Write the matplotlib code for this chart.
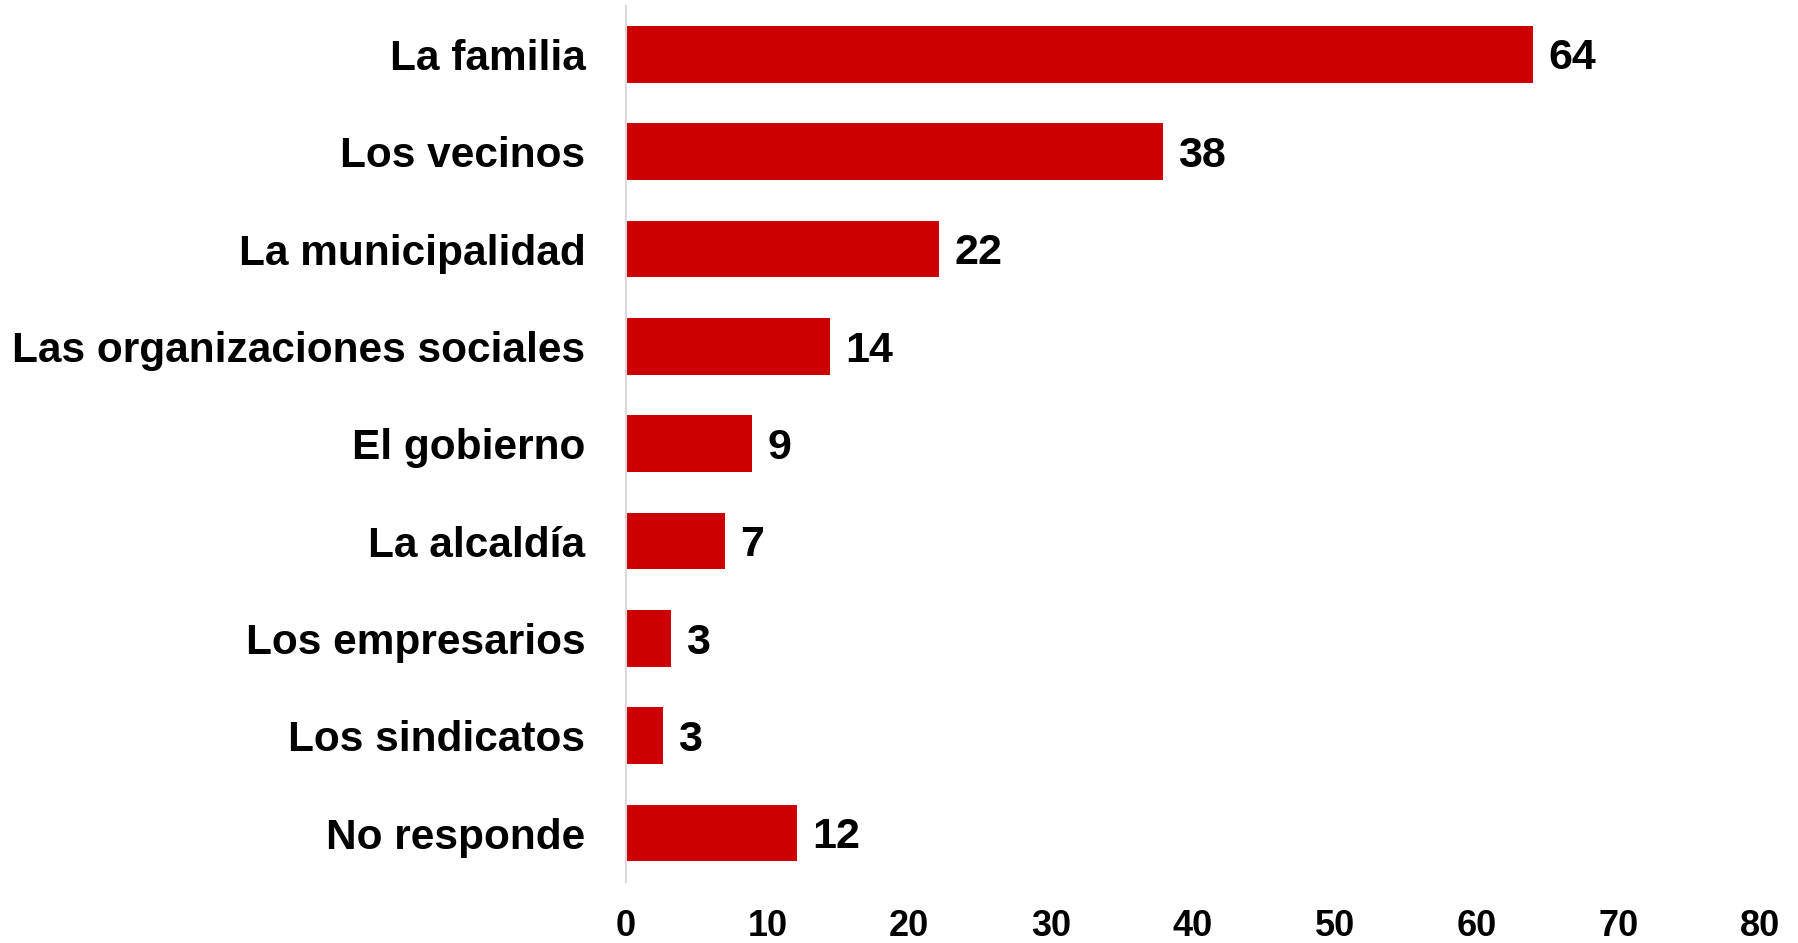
import matplotlib.pyplot as plt

plt.rcParams['font.family'] = ['Liberation Sans', 'DejaVu Sans']
plt.rcParams['font.weight'] = 'bold'

categories = ["La familia", "Los vecinos", "La municipalidad",
              "Las organizaciones sociales", "El gobierno", "La alcaldía",
              "Los empresarios", "Los sindicatos", "No responde"]
values = [64.0, 37.9, 22.1, 14.4, 8.9, 7.0, 3.2, 2.6, 12.1]
labels = ["64", "38", "22", "14", "9", "7", "3", "3", "12"]

fig = plt.figure(figsize=(17.98, 9.43), dpi=100)
ax = fig.add_axes([0.348, 0.065, 0.631, 0.929])

ypos = list(range(len(categories)))
bars = ax.barh(ypos, values, height=0.58, color="#CC0000")

# value labels just right of each bar
for b, lab in zip(bars, labels):
    ax.annotate(lab, (b.get_width(), b.get_y() + b.get_height() / 2),
                xytext=(11, -3), textcoords="offset points",
                va="center", ha="left", fontsize=31, fontweight="bold")

ax.set_yticks(ypos)
ax.set_yticklabels(categories, fontsize=30.5, fontweight="bold")
ax.set_ylim(len(categories) - 0.5, -0.5)
ax.set_xlim(0, 80)
ax.set_xticks(range(0, 81, 10))
ax.tick_params(axis="x", labelsize=26, length=0, pad=20)
ax.tick_params(axis="y", length=0, pad=29)

for s in ["top", "right", "bottom"]:
    ax.spines[s].set_visible(False)
ax.spines["left"].set_color("#d9d9d9")
ax.spines["left"].set_linewidth(1.5)

fig.savefig("out.png", dpi=100)
